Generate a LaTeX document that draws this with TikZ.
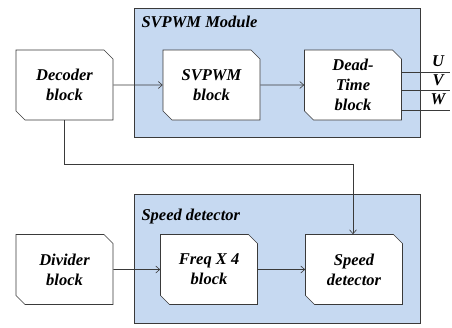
\documentclass[tikz,border=0pt]{standalone}
\usepackage{fontspec}
\setmainfont{Liberation Serif}
\usetikzlibrary{shapes.misc,arrows.meta}
\definecolor{modfill}{HTML}{C6D9F1}
\definecolor{linegray}{HTML}{3A3A3A}
\tikzset{
  blockfont/.style={font=\fontsize{16.5}{20}\selectfont\bfseries\itshape},
  block/.style={chamfered rectangle, chamfered rectangle corners={north east,south west},
    chamfered rectangle xsep=6pt, draw=linegray, fill=white, inner sep=0pt, line width=0.6pt,
    minimum width=97pt, minimum height=70pt, align=center, blockfont},
  module/.style={draw=linegray, fill=modfill, line width=0.6pt, minimum width=286pt, minimum height=129pt, inner sep=0pt},
  modlabel/.style={anchor=west, blockfont},
  sig/.style={draw=linegray, line width=0.6pt, -{Straight Barb[length=4pt,width=7pt]}},
}
\begin{document}
\begin{tikzpicture}[x=1pt,y=-1pt]
  \useasboundingbox (0,0) rectangle (452,327);
  % modules
  \node[module] (svmod) at (277,72.5) {};
  \node[module] (spmod) at (277,259) {};
  \node[modlabel] (svtitle) at (138,22) {SVPWM Module};
  \node[modlabel] (sptitle) at (138,217) {Speed detector};
  % blocks
  \node[block] (dec) at (64.5,85) {Decoder\\block};
  \node[block] (svpwm) at (211.5,85) {SVPWM\\block};
  \node[block] (dead) at (353,85) {Dead-\\Time\\block};
  \node[block] (div) at (64.5,269.5) {Divider\\block};
  \node[block] (freq) at (209,269.5) {Freq X 4\\block};
  \node[block] (spd) at (354,269.5) {Speed\\detector};
  % connectors
  \draw[sig] (dec) -- (svpwm);
  \draw[sig] (svpwm) -- (dead);
  \draw[sig] (div) -- (freq);
  \draw[sig] (freq) -- (spd);
  \coordinate (bend) at (353,164);
  \draw[sig] (dec.south) |- (bend) -- (bend |- spd.north);
  % outputs
  \coordinate (uend) at (450,72);
  \coordinate (vend) at (450,90);
  \coordinate (wend) at (450,110);
  \draw[linegray,line width=0.6pt] (dead.east |- uend) -- (uend);
  \draw[linegray,line width=0.6pt] (dead.east |- vend) -- (vend);
  \draw[linegray,line width=0.6pt] (dead.east |- wend) -- (wend);
  \node[blockfont] (ulab) at (438,61) {U};
  \node[blockfont] (vlab) at (438,80) {V};
  \node[blockfont] (wlab) at (438,99) {W};
\end{tikzpicture}
\end{document}
